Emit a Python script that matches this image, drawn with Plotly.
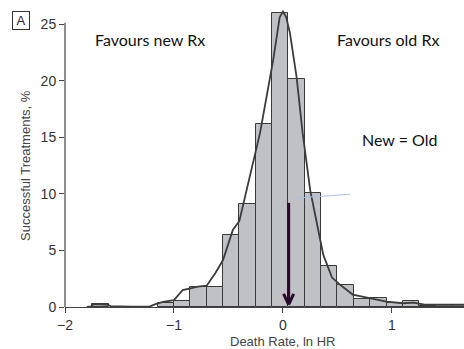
import plotly.graph_objects as go

# Histogram bins (centres, width 0.15) and heights (%)
bin_centers = [-1.675, -1.075, -0.925, -0.775, -0.625, -0.475, -0.325, -0.175, -0.025,
               0.125, 0.275, 0.425, 0.575, 0.725, 0.875, 1.025, 1.175, 1.325, 1.475, 1.625]
bin_heights = [0.25, 0.33, 0.55, 1.8, 1.8, 6.33, 9.1, 16.2, 26.0,
               20.1, 10.1, 3.6, 1.97, 0.68, 0.77, 0.38, 0.56, 0.05, 0.18, 0.2]
bin_width = 0.15

# Smoothed density curve
curve_x = [-1.8, -1.76, -1.74, -1.62, -1.58, -1.4, -1.22, -1.17, -1.1, -1.0, -0.92, -0.84,
           -0.78, -0.7, -0.62, -0.55, -0.46, -0.4, -0.3, -0.21, -0.15, -0.09, -0.03, 0.0,
           0.03, 0.064, 0.125, 0.18, 0.25, 0.31, 0.37, 0.45, 0.52, 0.64, 0.8, 0.95, 1.1,
           1.2, 1.3, 1.45, 1.66]
curve_y = [0.0, 0.05, 0.25, 0.22, 0.08, 0.03, 0.05, 0.25, 0.45, 0.6, 1.5, 1.7,
           1.8, 1.88, 3.0, 4.15, 6.8, 7.6, 11.8, 15.4, 18.6, 21.8, 25.6, 26.1,
           25.6, 24.2, 20.3, 15.4, 10.3, 7.3, 4.6, 2.6, 2.0, 1.1, 0.8, 0.47, 0.33,
           0.38, 0.2, 0.18, 0.2]

x_ticks = [-2, -1, 0, 1]
x_ticktext = ["\u22122", "\u22121", "0", "1"]
y_ticks = [0, 5, 10, 15, 20, 25]

NARROW = "Liberation Sans Narrow, Arial Narrow, Liberation Sans, Arial"
CAL = "Lato, Carlito, Calibri, sans-serif"

fig = go.Figure()
fig.add_trace(go.Bar(x=bin_centers, y=bin_heights, width=bin_width,
                     marker=dict(color="#c0c1c4", line=dict(color="#3a3a3a", width=1)),
                     showlegend=False))
fig.add_trace(go.Scatter(x=curve_x, y=curve_y, mode="lines",
                         line=dict(color="#3c3c3c", width=1.8), showlegend=False))

# y axis line (only up to 25)
fig.add_shape(type="line", xref="paper", yref="y", x0=0, x1=0, y0=0, y1=25.1,
              line=dict(color="#444", width=1.2))
# light blue line
fig.add_shape(type="line", xref="x", yref="y", x0=0.089, y0=9.6, x1=0.615, y1=9.96,
              line=dict(color="#a9bff0", width=1))
# arrow
ax_x = 0.052
fig.add_shape(type="line", x0=ax_x, x1=ax_x, y0=9.2, y1=0.25,
              line=dict(color="#2a0a2a", width=3))
fig.add_shape(type="line", x0=ax_x - 0.046, x1=ax_x, y0=1.15, y1=0.2,
              line=dict(color="#2a0a2a", width=3))
fig.add_shape(type="line", x0=ax_x + 0.046, x1=ax_x, y0=1.15, y1=0.2,
              line=dict(color="#2a0a2a", width=3))

fig.add_annotation(x=-1.22, y=23.6, text="Favours new Rx", showarrow=False,
                   font=dict(family=CAL, size=16, color="#111"))
fig.add_annotation(x=0.963, y=23.6, text="Favours old Rx", showarrow=False,
                   font=dict(family=CAL, size=16, color="#111"))
fig.add_annotation(x=1.073, y=14.84, text="New = Old", showarrow=False,
                   font=dict(family=CAL, size=16, color="#111"))

# Panel label
fig.add_annotation(xref="paper", yref="paper", x=-0.1103, y=0.932, text="A", showarrow=False,
                   xanchor="center", yanchor="middle",
                   font=dict(family=NARROW, size=13, color="#222"),
                   bordercolor="#333", borderwidth=1, borderpad=1, width=14, height=15)
# Axis titles
fig.add_annotation(xref="paper", yref="paper", x=-0.1003, y=0.4625,
                   xanchor="center", yanchor="middle",
                   text="Successful Treatments, %", textangle=-90, showarrow=False,
                   font=dict(family=NARROW, size=13, color="#444"))
fig.add_annotation(xref="paper", yref="paper", x=0.546, y=-0.111,
                   xanchor="center", yanchor="middle",
                   text="Death Rate, ln HR", showarrow=False,
                   font=dict(family=NARROW, size=13, color="#444"))

fig.update_layout(
    width=464, height=349,
    margin=dict(l=65, r=0, t=0, b=42),
    paper_bgcolor="white", plot_bgcolor="white",
    bargap=0,
    xaxis=dict(range=[-2, 1.661], tickvals=x_ticks, ticktext=x_ticktext,
               showgrid=False, zeroline=False, showline=True, linecolor="#444",
               linewidth=1.2, ticks="outside", ticklen=5, tickcolor="#444",
               tickfont=dict(family=NARROW, size=14, color="#333")),
    yaxis=dict(range=[0, 27.12], tickvals=y_ticks, showgrid=False, zeroline=False,
               showline=False, ticks="outside", ticklen=5, tickcolor="#444",
               tickfont=dict(family=NARROW, size=14, color="#333")),
)

fig.write_html("out.html", config={"displayModeBar": False},
               post_script="document.body.style.margin='0';document.body.style.overflow='hidden';")
